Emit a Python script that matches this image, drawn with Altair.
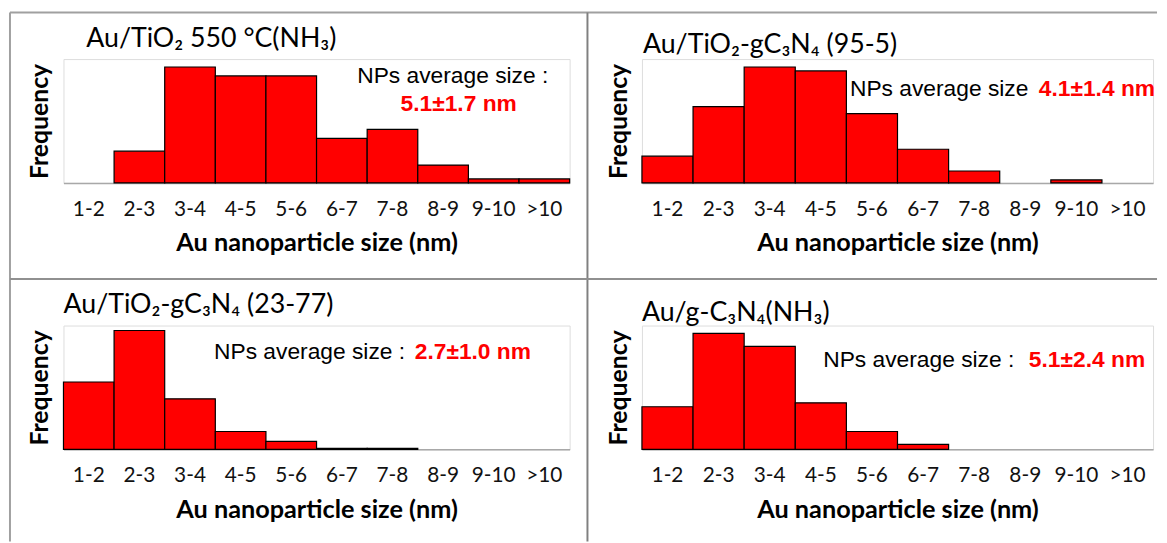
import altair as alt
import pandas as pd

# ---- data ----
size_bins = ["1-2", "2-3", "3-4", "4-5", "5-6", "6-7", "7-8", "8-9", "9-10", ">10"]
freq_tio2_550 = [0, 32, 117, 108, 108, 45, 54, 18, 4, 4]
freq_95_5 = [27, 77, 117, 113, 70, 34, 12, 0, 3, 0]
freq_23_77 = [68, 120, 51, 18, 8, 1, 1, 0, 0, 0]
freq_gc3n4 = [43, 117, 104, 47, 18, 5, 0, 0, 0, 0]

titles = ["Au/TiO₂ 550 °C(NH₃)", "Au/TiO₂-gC₃N₄ (95-5)", "Au/TiO₂-gC₃N₄ (23-77)", "Au/g-C₃N₄(NH₃)"]
np_labels = ["NPs average size :", "NPs average size", "NPs average size :", "NPs average size :"]
np_values = ["5.1±1.7 nm", "4.1±1.4 nm", "2.7±1.0 nm", "5.1±2.4 nm"]

x_title = "Au nanoparticle size (nm)"
y_title = "Frequency"

H = 125
W1, W2 = 511, 516
CAL = "Lato, Noto Sans, sans-serif"
ARIAL = "Liberation Sans, Arial, sans-serif"


def text_layer(txt, x, y, size, font, color="black", weight="normal", align="left", baseline="alphabetic"):
    return alt.Chart(pd.DataFrame({"t": [txt]})).mark_text(
        align=align, baseline=baseline, fontSize=size, font=font, color=color, fontWeight=weight
    ).encode(text="t:N", x=alt.value(x), y=alt.value(y))


def panel(values, width, title, title_pos, lab, val, lab_x, val_pos, two_lines=False, extra=None):
    df = pd.DataFrame({"size": size_bins, "count": values})
    bars = alt.Chart(df).transform_filter("datum.count > 0").mark_bar(
        color="#ff0000", stroke="black", strokeWidth=1.2
    ).encode(
        x=alt.X("size:N", sort=size_bins,
                scale=alt.Scale(domain=size_bins, paddingInner=0, paddingOuter=0),
                axis=alt.Axis(title=x_title, labelAngle=0, ticks=False, tickSize=0,
                              labelPadding=15.5, labelFontSize=21, labelFont=CAL, labelColor="#111",
                              domainColor="#a8a8a8", domainWidth=1.5,
                              titleFont=CAL, titleFontSize=25.5, titleFontWeight="bold",
                              titleColor="black", titlePadding=12)),
        y=alt.Y("count:Q", scale=alt.Scale(domain=[0, H]),
                axis=alt.Axis(title=y_title, labels=False, ticks=False, domain=False, grid=False,
                              titleFont=CAL, titleFontSize=25, titleFontWeight="bold",
                              titleColor="black", titlePadding=11)),
    ).properties(width=width, height=H)
    layers = [bars,
              text_layer(title, title_pos[0], title_pos[1], 27, CAL)]
    if two_lines:
        layers.append(text_layer(lab, lab_x, val_pos[1] - 28, 23, ARIAL, align="center"))
        layers.append(text_layer(val, val_pos[0], val_pos[1], 23, ARIAL, color="#ff0000",
                                 weight="bold", align="center"))
    else:
        layers.append(text_layer(lab, lab_x, val_pos[1], 23, ARIAL))
        layers.append(text_layer(val, val_pos[0], val_pos[1], 23, ARIAL, color="#ff0000",
                                 weight="bold", align="right"))
    if extra is not None:
        layers.extend(extra)
    return alt.layer(*layers)


frame_color = "#a0a0a0"
frame = [
    alt.Chart(pd.DataFrame({"k": [0]})).mark_rule(color=frame_color, strokeWidth=2).encode(
        x=alt.value(-54), x2=alt.value(1104), y=alt.value(-47)),
    alt.Chart(pd.DataFrame({"k": [0]})).mark_rule(color=frame_color, strokeWidth=2).encode(
        x=alt.value(-54), y=alt.value(-47), y2=alt.value(487)),
    alt.Chart(pd.DataFrame({"k": [0]})).mark_rule(color="#808080", strokeWidth=2).encode(
        x=alt.value(529), y=alt.value(-47), y2=alt.value(487)),
    alt.Chart(pd.DataFrame({"k": [0]})).mark_rule(color="#909090", strokeWidth=2).encode(
        x=alt.value(-54), x2=alt.value(1104), y=alt.value(222)),
]

p1 = panel(freq_tio2_550, W1, titles[0], (23, -12), np_labels[0], np_values[0],
           393, (399, 52), two_lines=True, extra=frame)
p2 = panel(freq_95_5, W2, titles[1], (1, -6), np_labels[1], np_values[1],
           210, (518, 37))
p3 = panel(freq_23_77, W1, titles[2], (0, -13), np_labels[2], np_values[2],
           152, (472, 34))
p4 = panel(freq_gc3n4, W2, titles[3], (0, -5), np_labels[3], np_values[3],
           183, (508, 42))

chart = alt.concat(p1, p2, p3, p4, columns=2,
                   spacing={"row": 144, "column": 73}, bounds="flush").properties(
    padding={"left": 0, "top": 0, "right": 0, "bottom": 0}
).configure_view(stroke=None).configure(background="white")

chart.save("out.html", embed_options={"renderer": "svg", "actions": False})
